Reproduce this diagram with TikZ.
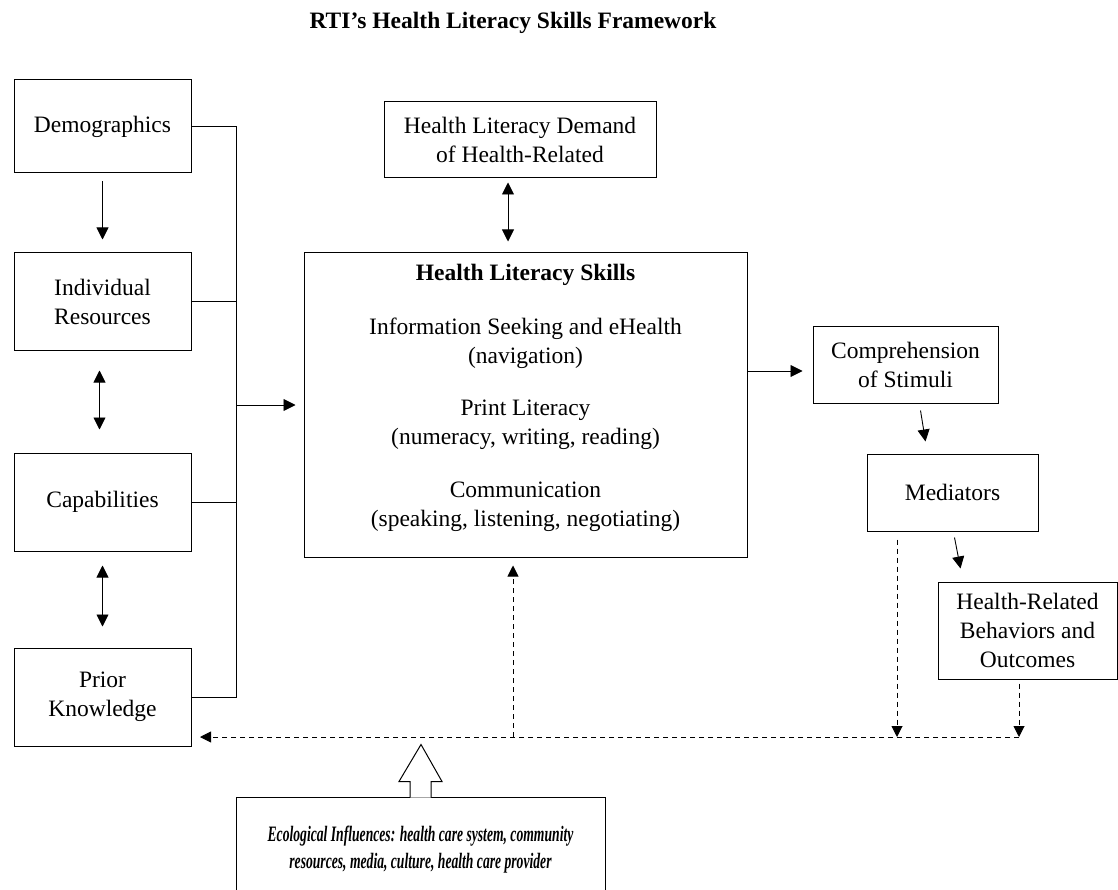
\documentclass[tikz,border=0pt]{standalone}
\usepackage{fontspec}
\usepackage{graphicx}
\setmainfont{Liberation Serif}
\usetikzlibrary{arrows.meta}
\begin{document}
\begin{tikzpicture}[x=1pt,y=-1pt,
  font=\fontsize{23.5}{29}\selectfont,
  box/.style={draw,line width=1pt,align=center,inner sep=0pt},
  arr/.style={line width=0.9pt,-{Triangle[length=12pt,width=12pt]}},
  biarr/.style={line width=0.9pt,{Triangle[length=12pt,width=12pt]}-{Triangle[length=12pt,width=12pt]}},
  darr/.style={line width=0.9pt,dash pattern=on 5pt off 4pt,-{Triangle[length=11pt,width=11pt]}}]
\useasboundingbox (0,0) rectangle (1118,890);
\clip (0,0) rectangle (1118,890);
\node[font=\fontsize{23.5}{29}\selectfont\bfseries] (title) at (513,23) {RTI’s Health Literacy Skills Framework};
\node[box,minimum width=177pt,minimum height=93pt] (demo) at (102.5,126.5) {Demographics};
\node[box,minimum width=177pt,minimum height=97pt] (indiv) at (102.5,301.5) {Individual\\Resources};
\node[box,minimum width=177pt,minimum height=98pt] (capab) at (102.5,502) {Capabilities};
\node[box,minimum width=177pt,minimum height=98pt] (prior) at (102.5,697) {Prior\\Knowledge};
\node[box,minimum width=272pt,minimum height=76pt] (demand) at (520,140) {Health Literacy Demand\\of Health-Related};
\node[box,minimum width=443pt,minimum height=304pt] (skills) at (525.5,405) {};
\node[align=center] (skillstext) at (525.5,398) {\textbf{Health Literacy Skills}\\[25pt]
  Information Seeking and eHealth\\(navigation)\\[23pt]
  Print Literacy\\(numeracy, writing, reading)\\[24pt]
  Communication\\(speaking, listening, negotiating)};
\node[box,minimum width=185pt,minimum height=77pt] (comp) at (905.5,364.5) {Comprehension\\of Stimuli};
\node[box,minimum width=171pt,minimum height=77pt] (med) at (952.5,492.5) {Mediators};
\node[box,minimum width=179pt,minimum height=97pt] (hr) at (1027.5,630.5) {Health-Related\\Behaviors and\\Outcomes};
\node[box,minimum width=369pt,minimum height=106pt,font=\fontsize{22}{27}\selectfont\bfseries\itshape] (eco) at (420.5,850)
  {\scalebox{0.62}[1]{Ecological Influences: health care system, community}\\
   \scalebox{0.62}[1]{resources, media, culture, health care provider}};
\draw[arr,shorten <=8pt,shorten >=13pt] (demo) -- (indiv);
\draw[biarr,shorten <=20pt,shorten >=23pt] ([xshift=-3pt]indiv.south) -- ([xshift=-3pt]capab.north);
\draw[biarr,shorten <=14pt,shorten >=21pt] (capab) -- (prior);
\draw[line width=1pt] (demo.east) -- ++(45,0) |- (prior.east);
\draw[line width=1pt] (indiv.east) -- ++(45,0);
\draw[line width=1pt] (capab.east) -- ++(45,0);
\coordinate (bus) at (236,405);
\draw[arr,shorten >=8pt] (bus) -- (skills.west);
\draw[biarr,shorten <=4pt,shorten >=11pt] ([xshift=-12pt]demand.south) -- ([xshift=-12pt]demand.south |- skills.north);
\coordinate (out) at (747,371);
\draw[arr,shorten >=10pt] (out) -- (out -| comp.west);
\draw[arr] ([xshift=15pt,yshift=-7pt]comp.south) -- ([xshift=-27pt,yshift=12pt]med.north);
\draw[arr] ([xshift=2pt,yshift=-6pt]med.south) -- ([xshift=-67pt,yshift=13pt]hr.north);
% Rueckkopplung
\coordinate (fbR) at (1019,737);
\coordinate (fbM) at (513,737);
\coordinate (fbL) at (200,737);
\draw[darr] ([xshift=-55.5pt,yshift=-8pt]med.south) -- ([xshift=-55.5pt]med.south |- fbR);
\draw[darr] ([xshift=-8.5pt,yshift=-4pt]hr.south) -- (fbR);
\draw[darr] (fbR) -- (fbL);
\draw[darr,shorten >=8pt] (fbM) -- (fbM |- skills.south);
\draw[line width=1pt,fill=white] ([xshift=-10.5pt,yshift=-1pt]eco.north) -- ++(0,-16) -- ++(-11,0)
  -- ++(22,-37) -- ++(21,37) -- ++(-11,0) -- ++(0,16);
\end{tikzpicture}
\end{document}
